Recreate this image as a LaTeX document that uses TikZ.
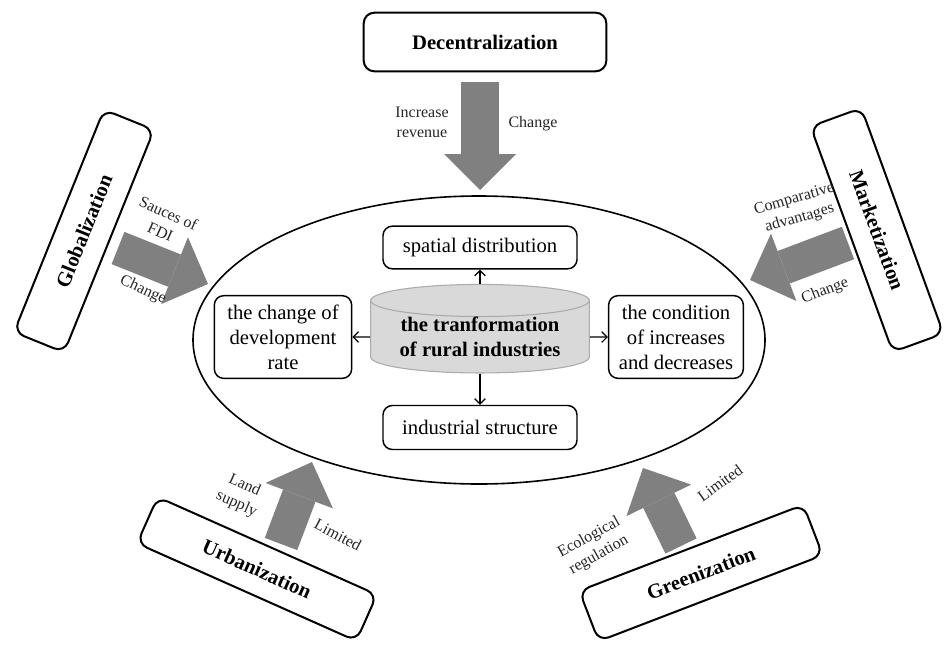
\documentclass[tikz,border=0pt]{standalone}
\usepackage{fontspec}
\setmainfont{Liberation Serif}
\usetikzlibrary{arrows.meta,shapes.geometric}

\definecolor{arrowgray}{RGB}{128,128,128}
\definecolor{cylfill}{RGB}{217,217,217}
\definecolor{cyldraw}{RGB}{170,170,170}

\tikzset{
  outerbox/.style={draw, line width=1.5pt, rounded corners=8pt, minimum width=180pt, minimum height=40.5pt, inner sep=0pt, font=\fontsize{15.5}{18}\selectfont\bfseries},
  innerbox/.style={draw, line width=1.1pt, rounded corners=7pt, align=center, inner sep=0pt, font=\fontsize{15.5}{18.75}\selectfont},
  fatarrow/.style={draw=arrowgray, line width=26pt, -{Triangle[length=27pt,width=54pt,line width=0pt]}},
  smalltext/.style={inner sep=0pt, align=center, text=black!85, font=\fontsize{12}{15}\selectfont},
  thinarrow/.style={line width=0.9pt, -{Straight Barb[length=4pt,width=8pt]}},
}

\begin{document}
\begin{tikzpicture}[x=0.75pt,y=0.75pt,yscale=-1,xscale=1]
\useasboundingbox (0,0) rectangle (945,646);

%Shape: Ellipse
\draw[line width=1.2pt] (479,340) ellipse (286 and 144);

% Outer boxes
\node[outerbox, minimum width=182pt, minimum height=44pt] (decentral) at (485,42) {Decentralization};
\node[outerbox, rotate=68] (global) at (84,231) {Globalization};
\node[outerbox, rotate=-70] (market) at (877,230) {Marketization};
\node[outerbox, rotate=-24, minimum height=38pt] (urban) at (257,569) {Urbanization};
\node[outerbox, rotate=21] (green) at (701,573) {Greenization};

% Inner boxes
\node[cylinder, shape border rotate=90, aspect=0.2, draw=cyldraw, fill=cylfill, line width=0.8pt, minimum width=164pt, minimum height=50pt, align=center, inner sep=0pt, font=\fontsize{15.5}{18.75}\selectfont\bfseries] (transform) at (480,337) {the tranformation\\of rural industries};
\node[innerbox, minimum width=145.5pt, minimum height=32pt] (spatial) at (480,247.5) {spatial distribution};
\node[innerbox, minimum width=145.5pt, minimum height=33pt] (structure) at (480,427.5) {industrial structure};
\node[innerbox, minimum width=103pt, minimum height=62pt] (devrate) at (283,337) {the change of\\development\\rate};
\node[innerbox, minimum width=101pt, minimum height=62pt] (incdec) at (676,337) {the condition\\of increases\\and decreases};

%Straight Lines
\draw[thinarrow] (transform) -- (spatial);
\draw[thinarrow] (transform) -- (structure);
\draw[thinarrow] (transform) -- (devrate);
\draw[thinarrow] (transform) -- (incdec);

% Fat arrows
\coordinate (dectail) at (480,82);
\coordinate (dectip) at (480,190);
\coordinate (globtail) at (118,248);
\coordinate (globtip) at (208,284);
\coordinate (markettail) at (848,243);
\coordinate (markettip) at (750,280);
\coordinate (urbantail) at (281,544);
\coordinate (urbantip) at (312,462);
\coordinate (greentail) at (681,546);
\coordinate (greentip) at (643,468);
\draw[fatarrow, line width=28.5pt] (dectail) -- (dectip);
\draw[fatarrow] (globtail) -- (globtip);
\draw[fatarrow] (markettail) -- (markettip);
\draw[fatarrow] (urbantail) -- (urbantip);
\draw[fatarrow] (greentail) -- (greentip);

% Text Node
\node[smalltext] (declabA) at (422,122) {Increase\\revenue};
\node[smalltext] (declabB) at (533,124) {Change};
% Text Node
\node[smalltext, rotate=-24] (globlabA) at (164.5,222.5) {Sauces of\\FDI};
\node[smalltext, rotate=-25] (globlabB) at (143,290) {Change};
% Text Node
\node[smalltext, rotate=16] (marketlabA) at (797,209) {Comparative\\advantages};
\node[smalltext, rotate=21] (marketlabB) at (825,291) {Change};
% Text Node
\node[smalltext, rotate=-24] (urbanlabA) at (240.5,495) {Land\\supply};
\node[smalltext, rotate=-28] (urbanlabB) at (338,535) {Limited};
% Text Node
\node[smalltext, rotate=29] (greenlabA) at (594,546.5) {Ecological\\regulation};
\node[smalltext, rotate=36] (greenlabB) at (720,483) {Limited};

\end{tikzpicture}
\end{document}
